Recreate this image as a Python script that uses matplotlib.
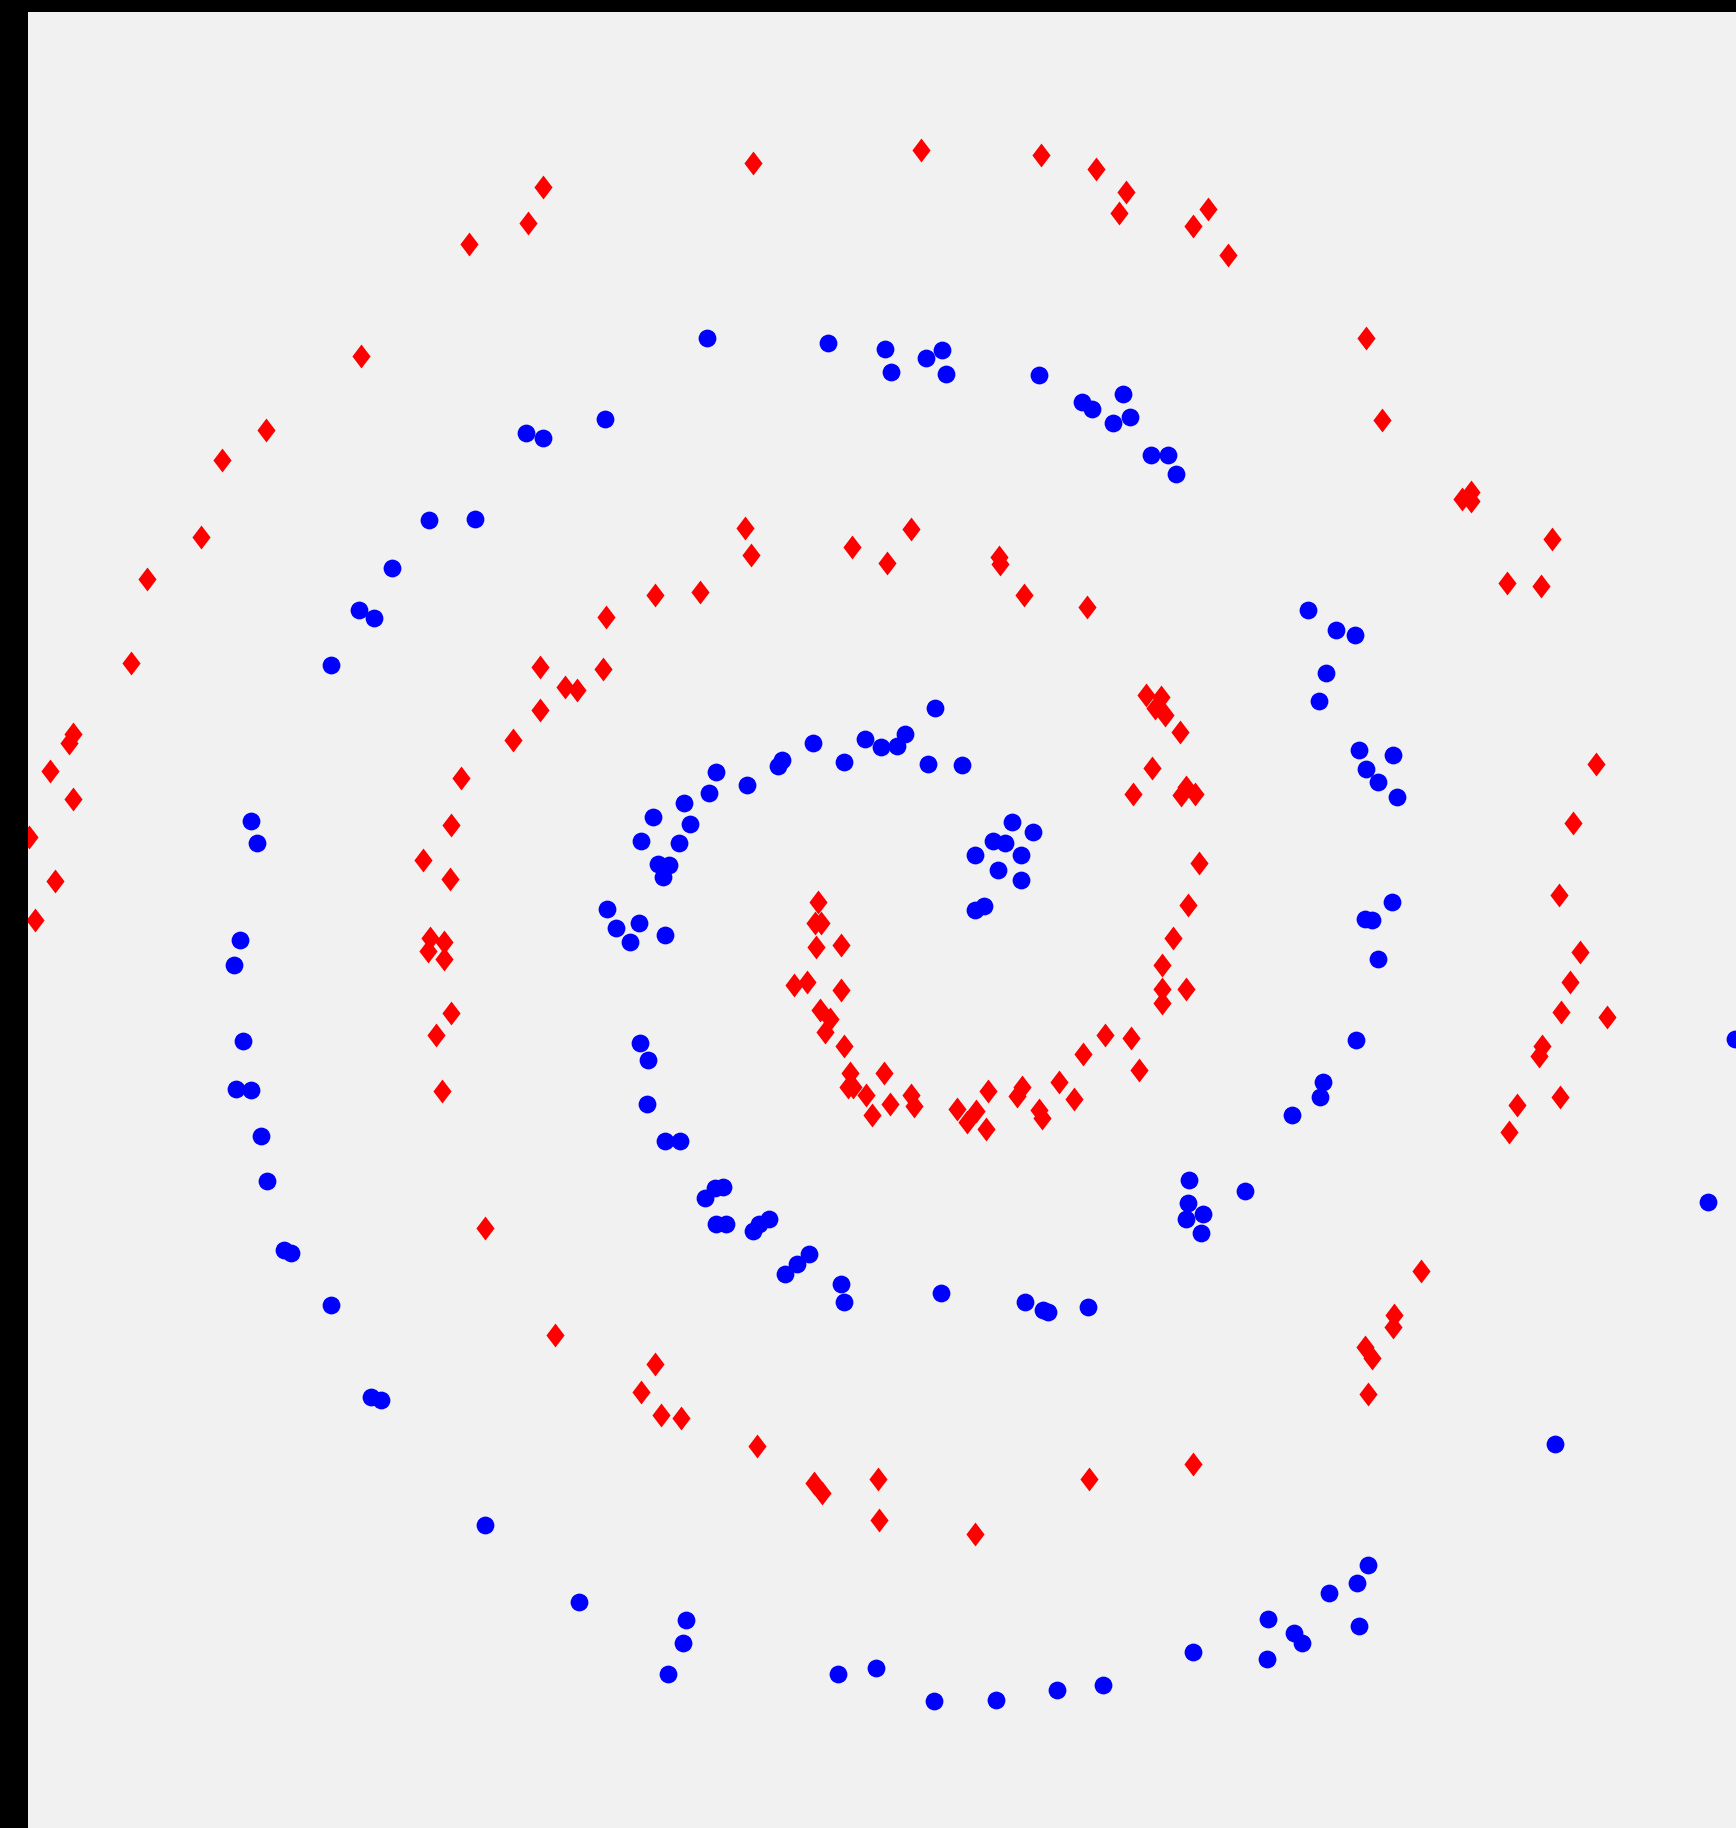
import numpy as np
import matplotlib
matplotlib.use("Agg")
import matplotlib.pyplot as plt
from matplotlib.path import Path

# two interleaved spirals, positions (x right, y down)
blue_pts = [
    (606, 290), (710, 294), (759, 299), (764, 319), (794, 307), (808, 300), (811, 321),
    (891, 322), (928, 345), (937, 351), (963, 338), (955, 363), (969, 358), (987, 390),
    (1002, 390), (1009, 407),
    (519, 359), (451, 371), (466, 376), (368, 446), (407, 445), (336, 487), (308, 523),
    (321, 530), (284, 570),
    (215, 704), (220, 723), (206, 806), (201, 828), (208, 893), (202, 934), (215, 935),
    (224, 974), (229, 1013),
    (244, 1072), (250, 1075), (284, 1119), (318, 1198), (327, 1201), (416, 1308), (497, 1374),
    (588, 1390), (586, 1409), (573, 1436), (719, 1436), (751, 1431), (801, 1459), (854, 1458),
    (907, 1450), (946, 1445), (1023, 1417), (1087, 1423), (1088, 1389), (1110, 1401),
    (1117, 1409), (1140, 1366), (1164, 1358), (1173, 1342), (1166, 1395),
    (1334, 1239), (1465, 1031), (1488, 891),
    (1122, 523), (1146, 540), (1162, 545), (1137, 577), (1131, 601), (1166, 643), (1195, 648),
    (1172, 660), (1182, 671), (1198, 684), (1194, 774), (1171, 788), (1177, 789), (1182, 823),
    (1163, 892), (1135, 928), (1132, 941), (1108, 956), (1068, 1022), (1020, 1012),
    (1019, 1032), (1017, 1046), (1032, 1041), (1030, 1058),
    (933, 1121), (899, 1125), (895, 1124), (879, 1117), (807, 1109), (724, 1117), (721, 1101),
    (694, 1076), (684, 1084), (673, 1093), (660, 1046), (651, 1050), (646, 1056), (623, 1050),
    (614, 1050), (605, 1028), (613, 1019), (620, 1018), (583, 979), (570, 979), (555, 947),
    (556, 909), (549, 895),
    (521, 780), (528, 796), (548, 792), (540, 808), (570, 802), (569, 752), (574, 742),
    (564, 741), (550, 721), (582, 723), (560, 701), (592, 707), (587, 689), (608, 680),
    (614, 662), (641, 673), (667, 657), (671, 652), (697, 637), (724, 654), (742, 634),
    (756, 641), (769, 640), (776, 630), (802, 607), (796, 655), (825, 656),
    (868, 705), (886, 714), (852, 721), (862, 723), (836, 733), (876, 733), (856, 746),
    (876, 755), (836, 781), (844, 777),
]

red_pts = [
    (466, 160), (453, 191), (402, 209), (310, 305), (228, 369), (190, 395), (172, 461),
    (126, 497), (112, 569), (63, 630), (59, 637), (43, 661), (63, 685), (25, 718), (47, 756),
    (30, 789),
    (646, 140), (790, 129), (893, 133), (940, 145), (966, 165), (960, 183), (1036, 179),
    (1023, 194), (1053, 219), (1172, 290), (1185, 360), (1254, 428), (1262, 422), (1262, 430),
    (1331, 462), (1293, 500), (1322, 503), (1369, 655), (1349, 706), (1337, 768), (1355, 817),
    (1347, 842), (1339, 868), (1378, 872), (1323, 897), (1320, 906), (1338, 941), (1301, 948),
    (1294, 971),
    (1219, 1090), (1196, 1128), (1195, 1138), (1171, 1155), (1177, 1165), (1173, 1196),
    (1023, 1256), (934, 1269), (836, 1316), (753, 1269), (754, 1304), (698, 1272), (705, 1281),
    (649, 1240), (584, 1216), (567, 1214), (550, 1194), (562, 1170), (476, 1145), (416, 1053),
    (379, 936), (374, 888), (387, 869), (381, 823), (367, 816), (381, 808), (369, 805),
    (386, 754), (363, 738), (387, 708), (395, 667), (440, 635), (463, 609), (463, 572),
    (485, 589), (495, 592), (517, 574), (520, 529), (562, 510), (600, 508), (639, 453),
    (644, 476), (731, 469), (781, 454), (761, 483), (857, 478), (858, 484), (878, 510),
    (932, 521), (983, 596), (996, 598), (991, 607), (999, 613), (1012, 628), (988, 659),
    (972, 681), (1013, 682), (1017, 675), (1025, 681), (1028, 740), (1019, 776), (1006, 805),
    (997, 828), (997, 848), (997, 860), (1017, 848),
    (702, 774), (699, 792), (704, 792), (700, 812), (721, 811), (681, 845), (692, 842),
    (721, 849), (703, 866), (712, 874), (708, 885), (724, 897), (729, 920), (758, 920),
    (727, 932), (732, 932), (743, 939), (748, 956), (763, 947), (781, 939), (784, 949),
    (821, 951), (829, 962), (837, 953), (847, 936), (846, 968), (872, 940), (877, 932),
    (891, 952), (894, 959), (908, 928), (921, 943), (929, 904), (948, 888), (970, 890),
    (977, 918),
]

blue = np.array(blue_pts, dtype=float)
red = np.array(red_pts, dtype=float)

# diamond a bit wider than matplotlib's thin 'd'
diamond = Path([(0, 1), (0.76, 0), (0, -1), (-0.76, 0), (0, 1)],
               [Path.MOVETO, Path.LINETO, Path.LINETO, Path.LINETO, Path.CLOSEPOLY])

fig = plt.figure(figsize=(17.36, 18.28), dpi=100, facecolor="black")
ax = fig.add_axes([28 / 1736, 0, 1 - 28 / 1736, 1 - 12 / 1828])
ax.set_facecolor("#f1f1f1")

ax.plot(blue[:, 0], blue[:, 1], linestyle="none", marker="o", markersize=12.8,
        color="#0000ff", markeredgewidth=0)
ax.plot(red[:, 0], red[:, 1], linestyle="none", marker=diamond, markersize=17.2,
        color="#ff0000", markeredgewidth=0)

ax.set_xlim(24, 1489)
ax.set_ylim(1568, 10.3)
ax.set_xticks([])
ax.set_yticks([])
for s in ax.spines.values():
    s.set_visible(False)

fig.savefig("out.png", dpi=100, facecolor=fig.get_facecolor())
